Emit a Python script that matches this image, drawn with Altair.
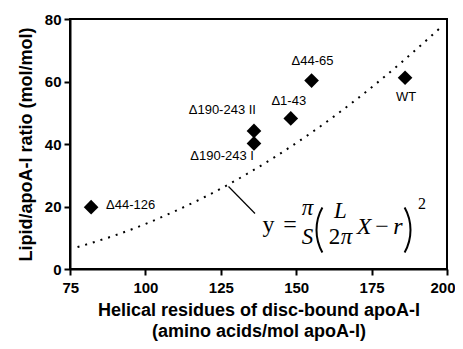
import altair as alt
import pandas as pd
import math

# ---------------- data ----------------
variants = ["Δ44-126", "Δ190-243 I", "Δ190-243 II", "Δ1-43", "Δ44-65", "WT"]
helical = [82.0, 136.0, 136.0, 148.2, 155.1, 186.1]
ratio = [19.8, 40.2, 44.2, 48.2, 60.3, 61.2]

# dotted model curve
curve_x = [77.5, 90, 100, 110, 120, 128, 143, 155, 170, 185, 198]
curve_y = [7.0, 10.8, 14.4, 18.6, 23.2, 27.3, 35.9, 43.6, 54.3, 66.2, 77.4]

x_ticks = [75, 100, 125, 150, 175, 200]
y_ticks = [0, 20, 40, 60, 80]
x_title = ["Helical residues of disc-bound apoA-I", "(amino acids/mol apoA-I)"]
y_title = "Lipid/apoA-I ratio (mol/mol)"

# ---------------- layout / style ----------------
W, H = 377, 250
OX, OY = 70, 19  # page position of plot origin
SANS = "Liberation Sans"
SERIF = "Liberation Serif"

label_layout = {
    "Δ44-126": ("left", 15, -2),
    "Δ190-243 I": ("right", 0, 13),
    "Δ190-243 II": ("right", 2, -21),
    "Δ1-43": ("center", -2, -17),
    "Δ44-65": ("center", 1, -20),
    "WT": ("center", 1, 19),
}

pts = pd.DataFrame({"variant": variants, "x": helical, "y": ratio})
crv = pd.DataFrame({"x": curve_x, "y": curve_y})

xs = alt.Scale(domain=[75, 200], nice=False, zero=False)
ys = alt.Scale(domain=[0, 80], nice=False, zero=False)

x_axis = alt.Axis(values=x_ticks, title=x_title, grid=False, labelFont=SANS,
                  labelFontSize=15, labelFontWeight="bold", labelColor="black",
                  labelPadding=5, tickSize=6, tickWidth=2, tickColor="black",
                  domainColor="black", domainWidth=2, titleFont=SANS,
                  titleFontSize=18, titleFontWeight="bold", titleColor="black",
                  titlePadding=6, titleLineHeight=21,
                  labelFlush=True, labelFlushOffset=8)
y_axis = alt.Axis(values=y_ticks, title=y_title, grid=False, labelFont=SANS,
                  labelFontSize=15, labelFontWeight="bold", labelColor="black",
                  labelPadding=3, tickSize=6, tickWidth=2, tickColor="black",
                  domainColor="black", domainWidth=2, titleFont=SANS,
                  titleFontSize=18, titleFontWeight="bold", titleColor="black",
                  titlePadding=9, labelFlush=False)

def xenc():
    return alt.X("x:Q", scale=xs, axis=x_axis)

def yenc():
    return alt.Y("y:Q", scale=ys, axis=y_axis)

curve = alt.Chart(crv).mark_line(
    strokeDash=[2, 6], strokeWidth=2, color="black", interpolate="monotone"
).encode(x=xenc(), y=yenc())

points = alt.Chart(pts).mark_point(
    shape="diamond", filled=True, size=215, color="black", opacity=1
).encode(x=xenc(), y=yenc())

layers = [curve, points]
for name, (al, dx, dy) in label_layout.items():
    layers.append(
        alt.Chart(pts).transform_filter(alt.datum.variant == name).mark_text(
            align=al, baseline="middle", dx=dx, dy=dy, font=SANS, fontSize=13,
            color="black"
        ).encode(x=xenc(), y=yenc(), text="variant:N")
    )

one = pd.DataFrame({"a": [0]})

# leader line from curve to equation
layers.append(alt.Chart(one).mark_rule(color="black", strokeWidth=1.2).encode(
    x=alt.value(228.5 - OX), y=alt.value(186.5 - OY),
    x2=alt.value(255 - OX), y2=alt.value(213.5 - OY)))

# equation glyphs: (text, page x center, page baseline, size, italic)
glyphs = [
    ("y", 268.5, 232, 24, False),
    ("=", 290, 232, 24, False),
    ("π", 307.5, 215, 23, True),
    ("S", 307.5, 244, 23, True),
    ("L", 340.5, 218, 23, True),
    ("2", 334.5, 244, 23, False),
    ("π", 346.5, 244, 23, True),
    ("X", 364, 234, 24, True),
    ("−", 382, 234, 24, False),
    ("r", 398, 234, 24, True),
    ("2", 422, 209, 16, False),
]
for t, gx, gy, fs, it in glyphs:
    kw = dict(text=t, align="center", baseline="alphabetic", font=SERIF,
              fontSize=fs, color="black")
    if it:
        kw["fontStyle"] = "italic"
    layers.append(alt.Chart(one).mark_text(**kw).encode(
        x=alt.value(gx - OX), y=alt.value(gy - OY)))

# big parentheses as thin arcs
R = 47
half = math.asin(23 / R)
for cx, mid in [(315.5 + R, 1.5 * math.pi), (411.5 - R, 0.5 * math.pi)]:
    layers.append(alt.Chart(one).mark_arc(
        theta=mid - half, theta2=mid + half, radius=R, radius2=R - 2,
        color="black").encode(x=alt.value(cx - OX), y=alt.value(230 - OY)))

chart = alt.layer(*layers).properties(
    width=W, height=H,
    autosize=alt.AutoSizeParams(type="none"),
    padding={"left": OX - 8, "top": OY - 8, "right": 8, "bottom": 72},
).configure_view(stroke="black", strokeWidth=2)

chart.save("out.html", embed_options={"renderer": "svg", "actions": False})
